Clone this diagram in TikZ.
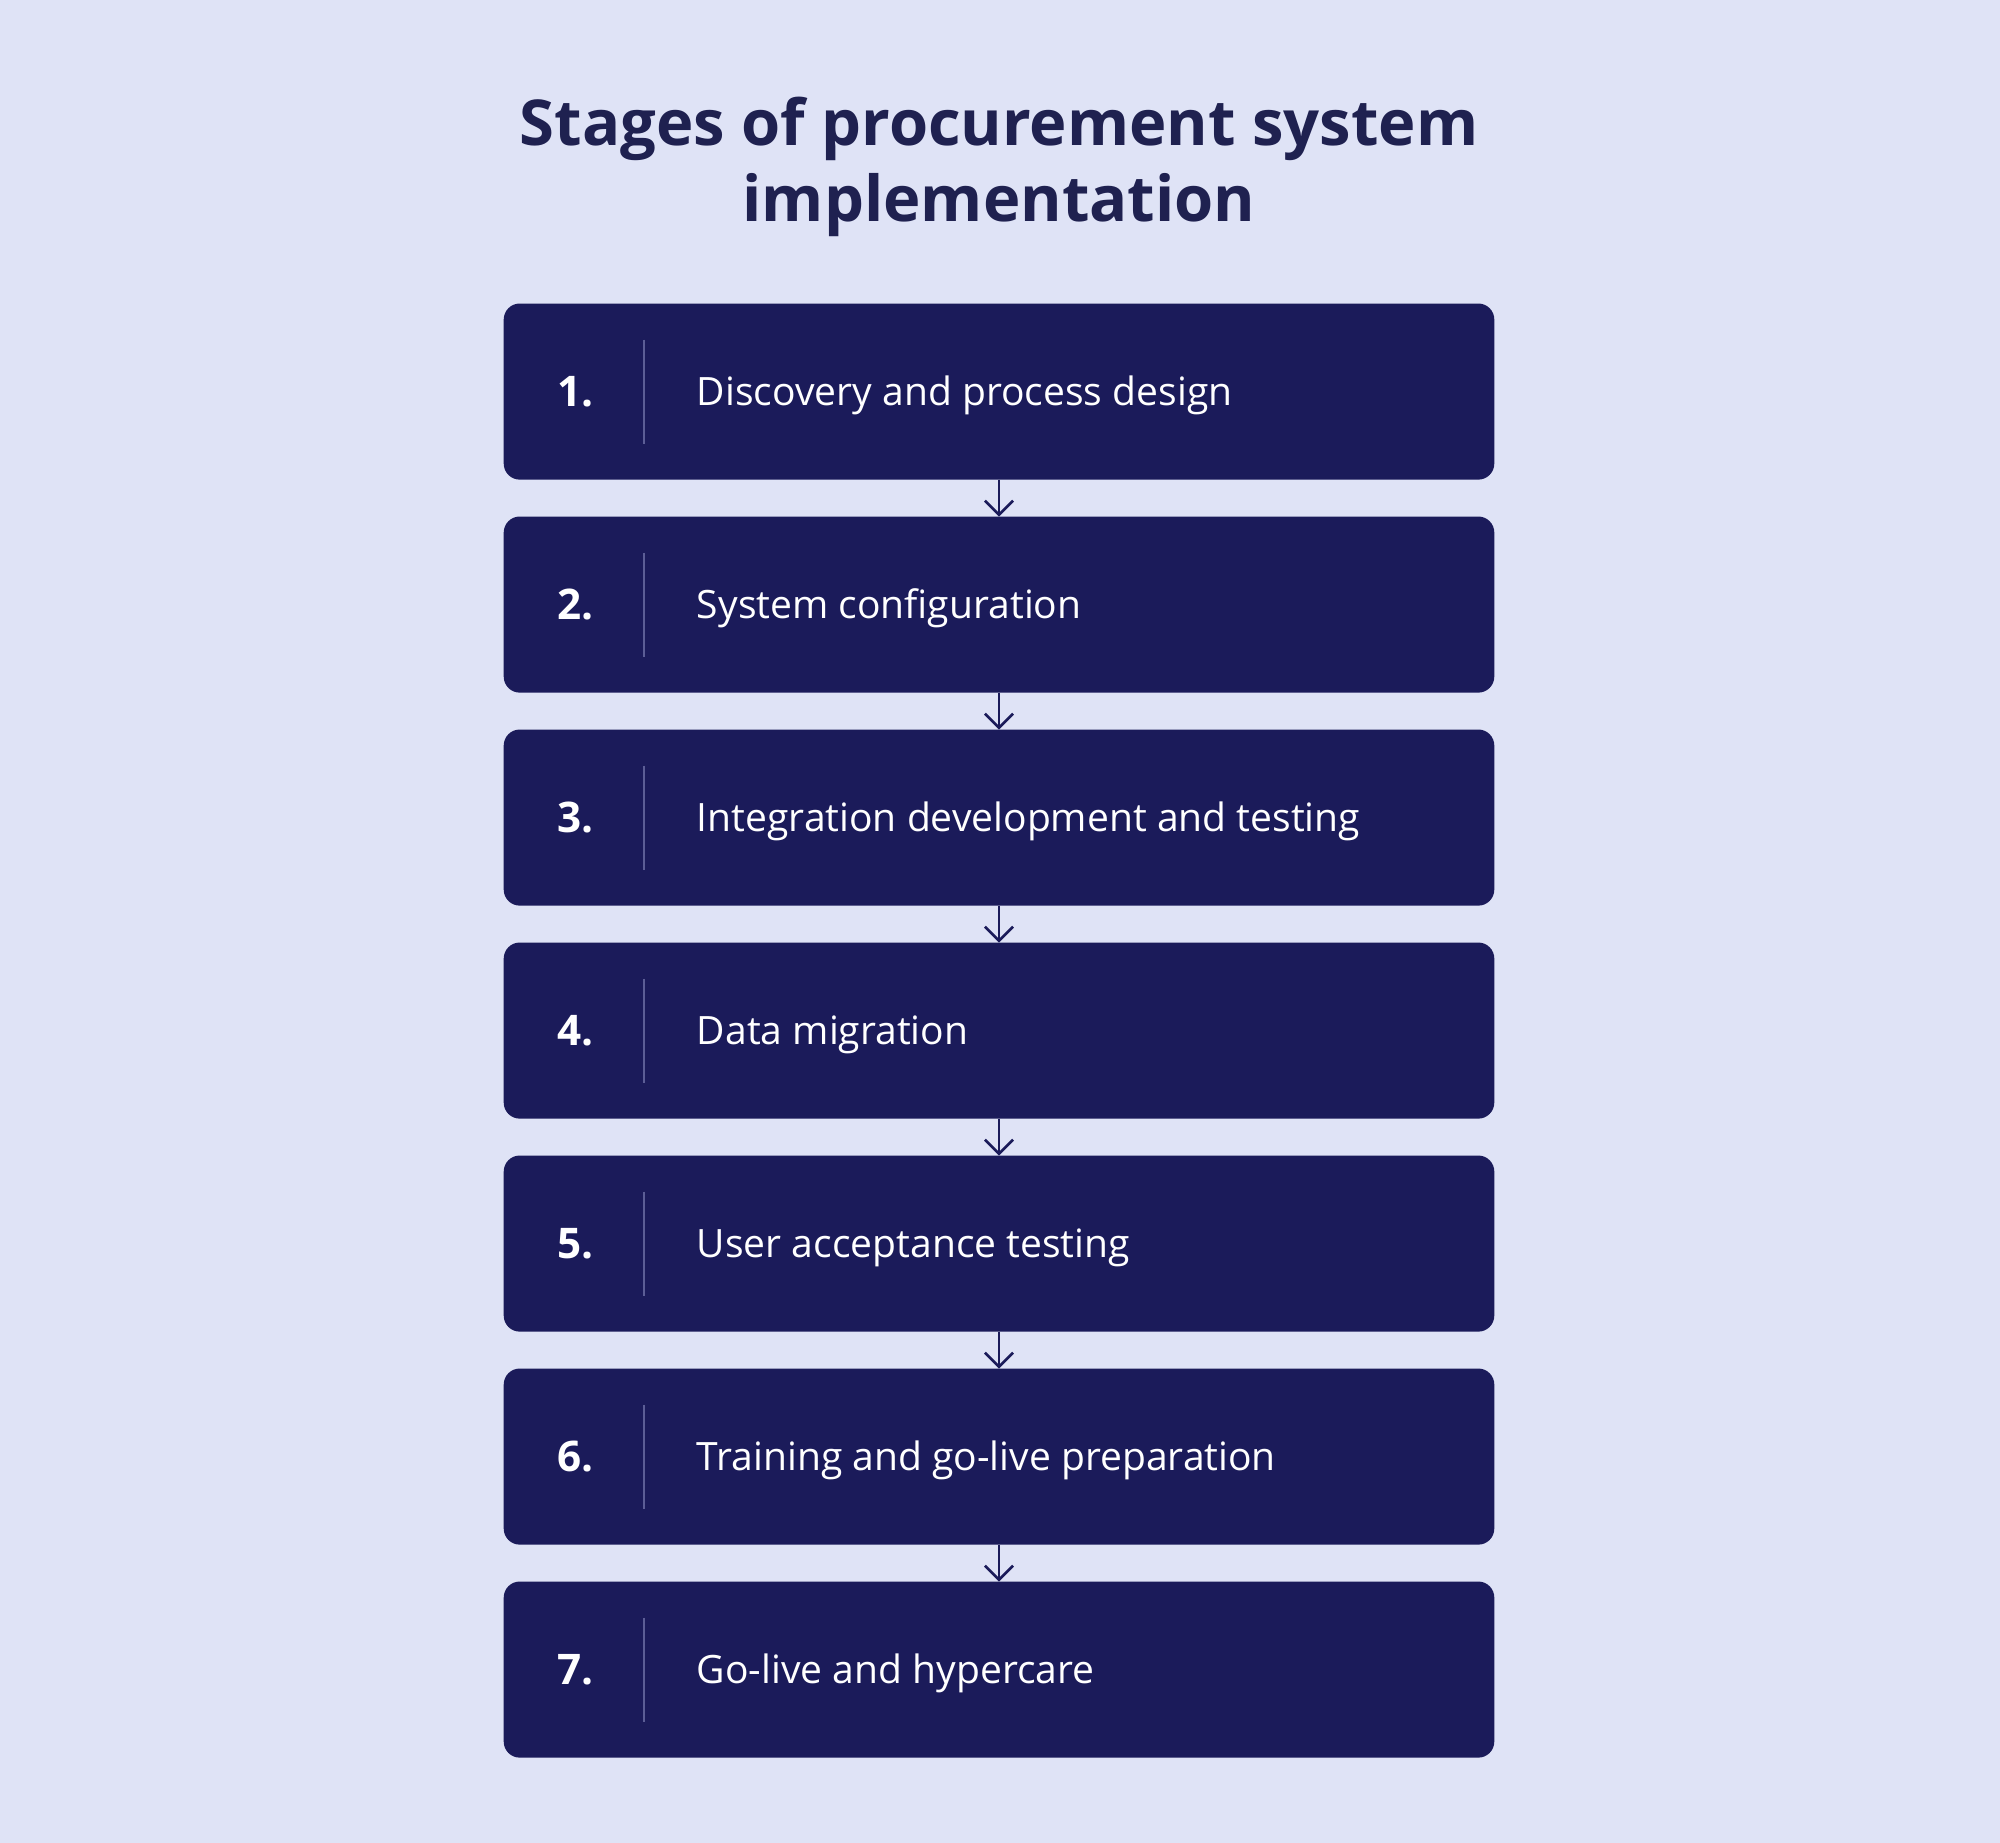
\documentclass[tikz,border=0pt]{standalone}
\usepackage{fontspec}
\setmainfont{Open Sans}
\usepackage{tikz}
\usetikzlibrary{arrows.meta,positioning,calc}

\definecolor{pagebg}{HTML}{DFE3F6}
\definecolor{navy}{HTML}{1B1B5A}
\definecolor{titleink}{HTML}{1F2150}
\definecolor{rulecol}{HTML}{5C5E96}

\begin{document}
\begin{tikzpicture}[
  x=0.01cm,y=0.01cm,
  stage/.style={fill=navy,rounded corners=0.16cm,minimum width=9.9cm,minimum height=1.76cm,inner sep=0pt,outer sep=0pt},
  num/.style={text=white,font=\fontsize{12}{14}\selectfont\bfseries,inner sep=0pt,anchor=base west},
  label/.style={text=white,font=\fontsize{11.1}{13}\selectfont,inner sep=0pt,anchor=base west},
  sep/.style={draw=rulecol,line width=0.5pt},
  arr/.style={-{Straight Barb[length=1.4mm,width=2.8mm]},draw=navy,line width=0.75pt}
]
  % background and page frame
  \fill[pagebg] (0,0) rectangle (2000,1843);
  \useasboundingbox (0,0) rectangle (2000,1843);

  \node[text=titleink,font=\fontsize{18}{21.4}\selectfont\bfseries,align=center] (title) at (999,1676)
    {Stages of procurement system\\implementation};

  \foreach \i/\t in {1/Discovery and process design,
                     2/System configuration,
                     3/Integration development and testing,
                     4/Data migration,
                     5/User acceptance testing,
                     6/Training and go-live preparation,
                     7/Go-live and hypercare}{
    \node[stage] (s\i) at (999,{1451.4-213*(\i-1)}) {};
    \node[num] (n\i) at ($(s\i.west)+(53,-15)$) {\i.};
    \coordinate (d\i) at ($(n\i.east |- s\i.center)+(50,0)$);
    \draw[sep] ($(d\i)+(0,52)$) -- ($(d\i)+(0,-52)$);
    \node[label] (l\i) at ($(d\i)+(52,-13.5)$) {\t};
  }
  \foreach \i [evaluate=\i as \j using int(\i+1)] in {1,...,6}
    \draw[arr] (s\i) -- (s\j);
\end{tikzpicture}
\end{document}
